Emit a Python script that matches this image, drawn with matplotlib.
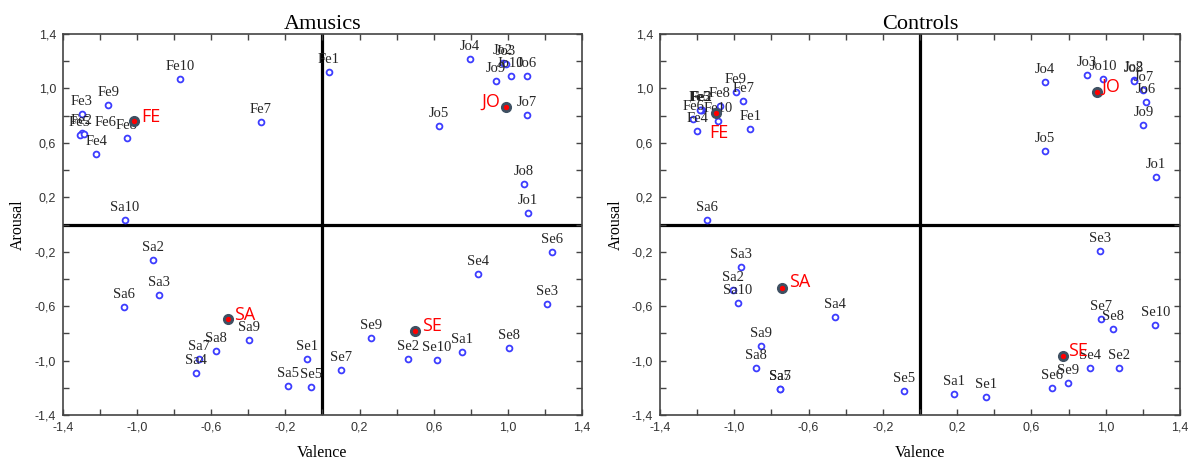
import numpy as np
import matplotlib
matplotlib.use('Agg')
from matplotlib import pyplot as plt
from matplotlib.ticker import MultipleLocator, FuncFormatter

# ---- data: Amusics (left panel) ----
am_fe_lab = ['Fe1', 'Fe2', 'Fe3', 'Fe4', 'Fe5', 'Fe6', 'Fe7', 'Fe8', 'Fe9', 'Fe10']
am_fe_x = [0.035, -1.30, -1.297, -1.22, -1.31, -1.285, -0.332, -1.056, -1.156, -0.767]
am_fe_y = [1.12, 0.675, 0.813, 0.521, 0.656, 0.665, 0.754, 0.634, 0.882, 1.068]

am_jo_lab = ['Jo1', 'Jo2', 'Jo3', 'Jo4', 'Jo5', 'Jo6', 'Jo7', 'Jo8', 'Jo9', 'Jo10']
am_jo_x = [1.11, 0.975, 0.99, 0.795, 0.628, 1.101, 1.101, 1.085, 0.937, 1.016]
am_jo_y = [0.081, 1.19, 1.18, 1.218, 0.724, 1.093, 0.803, 0.297, 1.056, 1.093]

am_sa_lab = ['Sa1', 'Sa2', 'Sa3', 'Sa4', 'Sa5', 'Sa6', 'Sa7', 'Sa8', 'Sa9', 'Sa10']
am_sa_x = [0.75, -0.913, -0.882, -0.681, -0.186, -1.071, -0.665, -0.573, -0.397, -1.066]
am_sa_y = [-0.936, -0.26, -0.521, -1.088, -1.189, -0.604, -0.99, -0.929, -0.85, 0.03]

am_se_lab = ['Se1', 'Se2', 'Se3', 'Se4', 'Se5', 'Se6', 'Se7', 'Se8', 'Se9', 'Se10']
am_se_x = [-0.084, 0.462, 1.209, 0.837, -0.062, 1.236, 0.098, 1.007, 0.261, 0.617]
am_se_y = [-0.99, -0.985, -0.585, -0.364, -1.194, -0.204, -1.069, -0.906, -0.835, -0.993]

am_cen_lab = ['FE', 'JO', 'SA', 'SE']
am_cen_x = [-1.017, 0.989, -0.512, 0.499]
am_cen_y = [0.761, 0.864, -0.698, -0.786]

# ---- data: Controls (right panel) ----
co_fe_lab = ['Fe1', 'Fe2', 'Fe3', 'Fe4', 'Fe5', 'Fe6', 'Fe7', 'Fe8', 'Fe9', 'Fe10']
co_fe_x = [-0.915, -1.175, -1.18, -1.199, -1.185, -1.222, -0.951, -1.077, -0.991, -1.089]
co_fe_y = [0.70, 0.845, 0.842, 0.686, 0.84, 0.774, 0.909, 0.869, 0.972, 0.761]

co_jo_lab = ['Jo1', 'Jo2', 'Jo3', 'Jo4', 'Jo5', 'Jo6', 'Jo7', 'Jo8', 'Jo9', 'Jo10']
co_jo_x = [1.269, 1.15, 0.898, 0.673, 0.673, 1.217, 1.203, 1.153, 1.203, 0.987]
co_jo_y = [0.351, 1.06, 1.10, 1.049, 0.54, 0.901, 0.987, 1.056, 0.732, 1.069]

co_sa_lab = ['Sa1', 'Sa2', 'Sa3', 'Sa4', 'Sa5', 'Sa6', 'Sa7', 'Sa8', 'Sa9', 'Sa10']
co_sa_x = [0.185, -1.005, -0.964, -0.458, -0.754, -1.149, -0.754, -0.885, -0.856, -0.982]
co_sa_y = [-1.245, -0.479, -0.315, -0.68, -1.206, 0.032, -1.206, -1.056, -0.892, -0.577]

co_se_lab = ['Se1', 'Se2', 'Se3', 'Se4', 'Se5', 'Se6', 'Se7', 'Se8', 'Se9', 'Se10']
co_se_x = [0.354, 1.073, 0.969, 0.916, -0.088, 0.709, 0.975, 1.038, 0.795, 1.267]
co_se_y = [-1.267, -1.056, -0.197, -1.056, -1.226, -1.204, -0.695, -0.766, -1.167, -0.739]

co_cen_lab = ['FE', 'JO', 'SA', 'SE']
co_cen_x = [-1.098, 0.952, -0.745, 0.772]
co_cen_y = [0.816, 0.975, -0.464, -0.97]

# ---- styles ----
SERIF = 'Liberation Serif'
SANS = 'Liberation Sans'
PT_BLUE = '#3c3cff'
LBL_COL = '#262626'

# label placement (points) for the centroid names, and a few nudged point labels
am_cen_off = {'FE': (5, 3, 'left'), 'JO': (-4, 4, 'right'), 'SA': (5, 3, 'left'), 'SE': (5, 4, 'left')}
co_cen_off = {'FE': (2, -14, 'center'), 'JO': (3, 4, 'left'), 'SA': (5, 4, 'left'), 'SE': (3, 4, 'left')}
am_nudge = {'Fe6': (15, 8)}
co_nudge = {}


def comma(v, pos):
    return ('%.1f' % v).replace('.', ',')


def panel(ax, title, groups, cen, cen_off, nudge):
    ax.set_xlim(-1.4, 1.4)
    ax.set_ylim(-1.4, 1.4)
    ax.axhline(0, color='black', lw=2.3, zorder=1)
    ax.axvline(0, color='black', lw=2.3, zorder=1)

    for lab, xs, ys in groups:
        ax.plot(xs, ys, 'o', ms=4.2, mfc='white', mec=PT_BLUE, mew=1.3, zorder=3)
        for t, x, y in zip(lab, xs, ys):
            dx, dy = nudge.get(t, (0, 9))
            ax.annotate(t, (x, y), xytext=(dx, dy), textcoords='offset points',
                        ha='center', va='center', fontsize=10.5, family=SERIF,
                        color=LBL_COL, zorder=4)

    lab, xs, ys = cen
    ax.plot(xs, ys, 'o', ms=7, color='#3e5062', zorder=5)
    ax.plot(xs, ys, 'o', ms=2.8, color='red', zorder=6)
    for t, x, y in zip(lab, xs, ys):
        dx, dy, ha = cen_off[t]
        ax.annotate(t, (x, y), xytext=(dx, dy), textcoords='offset points',
                    ha=ha, va='center', fontsize=13, family='Open Sans',
                    color='red', zorder=6)

    ax.xaxis.set_major_locator(MultipleLocator(0.4))
    ax.yaxis.set_major_locator(MultipleLocator(0.4))
    ax.set_xticks(np.arange(-1.4, 1.41, 0.4))
    ax.set_yticks(np.arange(-1.4, 1.41, 0.4))
    ax.set_xticks(np.arange(-1.2, 1.21, 0.4), minor=True)
    ax.set_yticks(np.arange(-1.2, 1.21, 0.4), minor=True)
    ax.xaxis.set_major_formatter(FuncFormatter(comma))
    ax.yaxis.set_major_formatter(FuncFormatter(comma))
    ax.tick_params(which='both', direction='in', top=True, right=True,
                   length=4, width=1, color='#444444')
    ax.tick_params(which='major', labelsize=9, labelcolor='#333333', pad=5)
    for lbl in ax.get_xticklabels() + ax.get_yticklabels():
        lbl.set_family(SANS)
    for s in ax.spines.values():
        s.set_color('#444444')
        s.set_linewidth(1.2)

    ax.set_title(title, fontsize=16, family=SERIF, pad=3)
    ax.set_xlabel('Valence', fontsize=11.5, family=SERIF, labelpad=8)
    ax.set_ylabel('Arousal', fontsize=11.5, family=SERIF, labelpad=6)


fig = plt.figure(figsize=(11.88, 4.61), dpi=100)
ax1 = fig.add_axes([0.053, 0.0998, 0.4369, 0.8264])
ax2 = fig.add_axes([0.5556, 0.0998, 0.4377, 0.8264])

panel(ax1, 'Amusics',
      [(am_fe_lab, am_fe_x, am_fe_y), (am_jo_lab, am_jo_x, am_jo_y),
       (am_sa_lab, am_sa_x, am_sa_y), (am_se_lab, am_se_x, am_se_y)],
      (am_cen_lab, am_cen_x, am_cen_y), am_cen_off, am_nudge)
panel(ax2, 'Controls',
      [(co_fe_lab, co_fe_x, co_fe_y), (co_jo_lab, co_jo_x, co_jo_y),
       (co_sa_lab, co_sa_x, co_sa_y), (co_se_lab, co_se_x, co_se_y)],
      (co_cen_lab, co_cen_x, co_cen_y), co_cen_off, co_nudge)

fig.savefig('out.png', dpi=100)
